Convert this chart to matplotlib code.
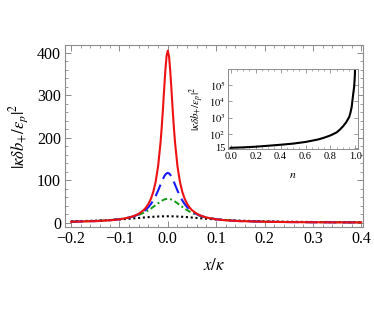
import matplotlib
matplotlib.use("Agg")
import matplotlib.pyplot as plt
from matplotlib.ticker import MultipleLocator, FixedLocator, FixedFormatter, NullLocator

plt.rcParams['font.family'] = ['Liberation Serif', 'DejaVu Serif']
plt.rcParams['mathtext.fontset'] = 'stix'

# main panel data (read for x >= 0; the curves are symmetric for |x| <= 0.2)
x_half = [0.0, 0.0025, 0.005, 0.0075, 0.01, 0.0125, 0.015, 0.02, 0.025, 0.03, 0.035, 0.04, 0.045, 0.05,
          0.06, 0.07, 0.08, 0.1, 0.12, 0.15, 0.2, 0.25, 0.3, 0.35, 0.4]
red_half = [405, 392.5, 359, 314.7, 268, 225.4, 188.5, 133, 96.7, 72.4, 55.9, 44.2, 35.7, 29.4,
            20.9, 15.6, 12.0, 7.8, 5.4, 3.5, 2.0, 1.27, 0.88, 0.65, 0.5]
blue_half = [117, 116.0, 113.1, 108.6, 102.8, 96.3, 89.4, 75.5, 63.0, 52.4, 43.6, 36.6, 30.9, 26.4,
             19.7, 15.1, 11.9, 7.9, 5.6, 3.6, 2.06, 1.33, 0.92, 0.68, 0.52]
green_half = [56, 55.8, 55.2, 54.3, 53.0, 51.4, 49.7, 45.6, 41.3, 37.1, 33.0, 29.3, 26.1, 23.1,
              18.4, 14.8, 12.0, 8.3, 6.0, 4.0, 2.32, 1.51, 1.06, 0.78, 0.60]
black_half = [15, 14.99, 14.96, 14.92, 14.85, 14.77, 14.7, 14.4, 14.1, 13.8, 13.4, 12.9, 12.5, 12.0,
              11.0, 10.1, 9.1, 7.5, 6.1, 4.6, 3.0, 2.07, 1.5, 1.13, 0.88]

n_mirror = 21  # points with x <= 0.2 are mirrored to negative x


def mirror_x(xs):
    return [-v for v in xs[1:n_mirror][::-1]] + xs


def mirror_y(ys):
    return ys[1:n_mirror][::-1] + ys


x = mirror_x(x_half)
red = mirror_y(red_half)
blue = mirror_y(blue_half)
green = mirror_y(green_half)
black = mirror_y(black_half)

# inset data
n_vals = [0.0, 0.1, 0.2, 0.3, 0.4, 0.5, 0.6, 0.7, 0.75, 0.8, 0.85, 0.875, 0.9, 0.925, 0.95, 0.96,
          0.97, 0.98, 0.985, 0.99, 0.993, 0.995, 0.997]
inset_vals = [15, 16, 17.5, 20, 23, 27, 34, 48, 62, 85, 130, 190, 300, 520, 1100, 2000,
              4500, 2e4, 4e4, 8e4, 1.8e5, 3.2e5, 9e5]

fig = plt.figure(figsize=(3.74, 3.2), dpi=100)
ax = fig.add_axes([0.174, 0.291, 0.797, 0.568])

frame_c = '#8c8c8c'
ax.plot(x, black, color='black', lw=1.5, ls=(0, (1.0, 1.3)))
ax.plot(x, green, color='#119911', lw=1.4, ls=(0, (3, 1.5, 1, 1.5)))
ax.plot(x, blue, color='#1a1aff', lw=1.5, ls=(0, (6, 3)))
ax.plot(x, red, color='#ee1111', lw=1.5)

ax.set_xlim(-0.2124, 0.404)
ax.set_ylim(-10, 418)
ax.xaxis.set_minor_locator(MultipleLocator(0.02))
ax.yaxis.set_major_locator(MultipleLocator(100))
ax.yaxis.set_minor_locator(MultipleLocator(20))
ax.set_xticks([-0.2, -0.1, 0.0, 0.1, 0.2, 0.3, 0.4])
ax.set_xticklabels(['\u22120.2', '\u22120.1', '0.0', '0.1', '0.2', '0.3', '0.4'])
ax.tick_params(which='both', direction='in', top=True, right=True, color=frame_c, labelsize=11.5, pad=3)
ax.tick_params(which='major', length=4, width=0.7)
ax.tick_params(which='minor', length=2, width=0.6)
for s in ax.spines.values():
    s.set_color(frame_c)
    s.set_linewidth(0.8)
ax.set_xlabel(r'$x/\kappa$', fontsize=12, labelpad=8)
ax.set_ylabel(r'$|\kappa\delta b_{+}/\varepsilon_p|^2$', fontsize=12, labelpad=4)

# inset
axi = fig.add_axes([0.610, 0.534, 0.347, 0.250])
axi.plot(n_vals, inset_vals, color='black', lw=1.5)
axi.set_yscale('log')
axi.set_xlim(-0.02, 1.02)
axi.set_ylim(12.5, 9e5)
axi.yaxis.set_major_locator(FixedLocator([15, 1e2, 1e3, 1e4, 1e5]))
axi.yaxis.set_major_formatter(FixedFormatter(['15', r'$10^2$', r'$10^3$', r'$10^4$', r'$10^5$']))
axi.yaxis.set_minor_locator(NullLocator())
axi.xaxis.set_minor_locator(MultipleLocator(0.05))
axi.set_xticks([0, 0.2, 0.4, 0.6, 0.8, 1.0])
axi.set_xticklabels(['0.0', '0.2', '0.4', '0.6', '0.8', '1.0'])
axi.tick_params(which='both', direction='in', top=True, right=True, color=frame_c, labelsize=7.5, pad=2)
axi.tick_params(which='major', length=3, width=0.6)
axi.tick_params(which='minor', length=1.5, width=0.5)
for s in axi.spines.values():
    s.set_color(frame_c)
    s.set_linewidth(0.7)
axi.set_xlabel(r'$n$', fontsize=8.5, labelpad=6)
axi.set_ylabel(r'$|\kappa\delta b_{+}/\varepsilon_p|^2$', fontsize=8, labelpad=2)

fig.savefig('out.png', dpi=100)
